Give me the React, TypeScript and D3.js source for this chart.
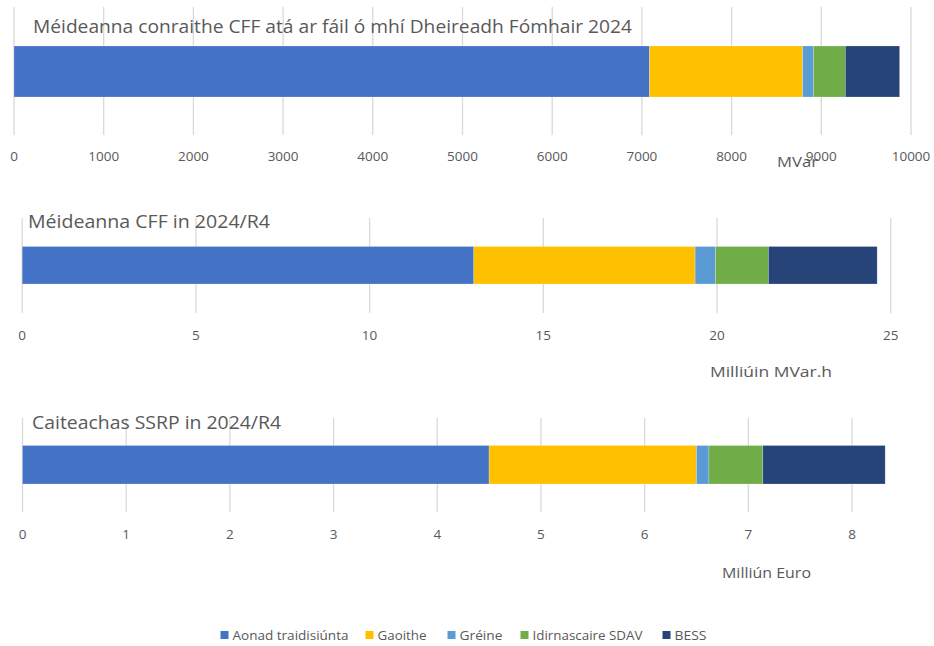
import React from "react";
import * as d3 from "d3";

const categories = ["Aonad traidisiúnta", "Gaoithe", "Gréine", "Idirnascaire SDAV", "BESS"];
const colors = ["#4472C4", "#FFC000", "#5B9BD5", "#70AD47", "#264478"];

const capacityMVar = [7085, 1707, 122, 354, 605];
const utilisationMVarh = [13.0, 6.37, 0.59, 1.52, 3.13];
const costEuro = [4.5, 2.0, 0.12, 0.52, 1.18];

const ticksCapacity = [0, 1000, 2000, 3000, 4000, 5000, 6000, 7000, 8000, 9000, 10000];
const ticksUtilisation = [0, 5, 10, 15, 20, 25];
const ticksCost = [0, 1, 2, 3, 4, 5, 6, 7, 8];

const titles = [
  "Méideanna conraithe CFF atá ar fáil ó mhí Dheireadh Fómhair 2024",
  "Méideanna CFF in 2024/R4",
  "Caiteachas SSRP in 2024/R4",
];
const unitLabels = ["MVar", "Milliúin MVar.h", "Milliún Euro"];

const FONT = "'Open Sans', 'Noto Sans', sans-serif";
const GREY = "#595959";

type PanelProps = {
  values: number[];
  ticks: number[];
  domain: [number, number];
  range: [number, number];
  title: string;
  titleX: number;
  titleY: number;
  titleLen: number;
  gridTop: number;
  gridBottom: number;
  barTop: number;
  barBottom: number;
  tickY: number;
  unit: string;
  unitX: number;
  unitY: number;
  unitLen: number;
};

function Panel(p: PanelProps) {
  const x = d3.scaleLinear().domain(p.domain).range(p.range);
  const stack = d3.cumsum(p.values);
  const starts = [0, ...Array.from(stack).slice(0, -1)];
  return (
    <g>
      {p.ticks.map((t) => (
        <line
          key={"g" + t}
          x1={x(t)}
          x2={x(t)}
          y1={p.gridTop}
          y2={p.gridBottom}
          stroke="#D9D9D9"
          strokeWidth={1.3}
        />
      ))}
      <text
        x={p.titleX}
        y={p.titleY}
        fontFamily={FONT}
        fontSize={19}
        fill={GREY}
        textLength={p.titleLen}
        lengthAdjust="spacingAndGlyphs"
      >
        {p.title}
      </text>
      {p.values.map((v, i) => (
        <rect
          key={"b" + i}
          x={x(starts[i])}
          y={p.barTop}
          width={x(starts[i] + v) - x(starts[i])}
          height={p.barBottom - p.barTop}
          fill={colors[i]}
          stroke="#ffffff"
          strokeOpacity={0.35}
          strokeWidth={0.6}
        />
      ))}
      {p.ticks.map((t) => (
        <text
          key={"t" + t}
          x={x(t)}
          y={p.tickY}
          textAnchor="middle"
          fontFamily={FONT}
          fontSize={13.5}
          fill={GREY}
        >
          {t}
        </text>
      ))}
      <text
        x={p.unitX}
        y={p.unitY}
        fontFamily={FONT}
        fontSize={14}
        fill={GREY}
        textLength={p.unitLen}
        lengthAdjust="spacingAndGlyphs"
      >
        {p.unit}
      </text>
    </g>
  );
}

export default function App() {
  const legendX = [220.5, 365.5, 447.5, 520.5, 662.5];
  const legendLen = [116, 49, 43, 110, 32];
  return (
    <svg
      width={934}
      height={646}
      style={{ position: "absolute", left: 0, top: 0, display: "block", background: "#fff" }}
    >
      <rect x={0} y={0} width={934} height={646} fill="#ffffff" />
      <Panel
        values={capacityMVar}
        ticks={ticksCapacity}
        domain={[0, 10000]}
        range={[14, 911]}
        title={titles[0]}
        titleX={33}
        titleY={33}
        titleLen={599}
        gridTop={7}
        gridBottom={135}
        barTop={46}
        barBottom={97}
        tickY={161}
        unit={unitLabels[0]}
        unitX={777}
        unitY={167}
        unitLen={41}
      />
      <Panel
        values={utilisationMVarh}
        ticks={ticksUtilisation}
        domain={[0, 25]}
        range={[22.2, 890.7]}
        title={titles[1]}
        titleX={28}
        titleY={228}
        titleLen={242}
        gridTop={218}
        gridBottom={313}
        barTop={246.5}
        barBottom={284}
        tickY={340}
        unit={unitLabels[1]}
        unitX={710}
        unitY={377}
        unitLen={122}
      />
      <Panel
        values={costEuro}
        ticks={ticksCost}
        domain={[0, 8]}
        range={[22.5, 852]}
        title={titles[2]}
        titleX={32}
        titleY={429}
        titleLen={249}
        gridTop={418}
        gridBottom={512}
        barTop={445.5}
        barBottom={484}
        tickY={539}
        unit={unitLabels[2]}
        unitX={722}
        unitY={578}
        unitLen={89}
      />
      {categories.map((c, i) => (
        <g key={c}>
          <rect x={legendX[i]} y={631} width={8} height={8} fill={colors[i]} />
          <text
            x={legendX[i] + 12}
            y={639.5}
            fontFamily={FONT}
            fontSize={13.5}
            fill={GREY}
            textLength={legendLen[i]}
            lengthAdjust="spacingAndGlyphs"
          >
            {c}
          </text>
        </g>
      ))}
    </svg>
  );
}
